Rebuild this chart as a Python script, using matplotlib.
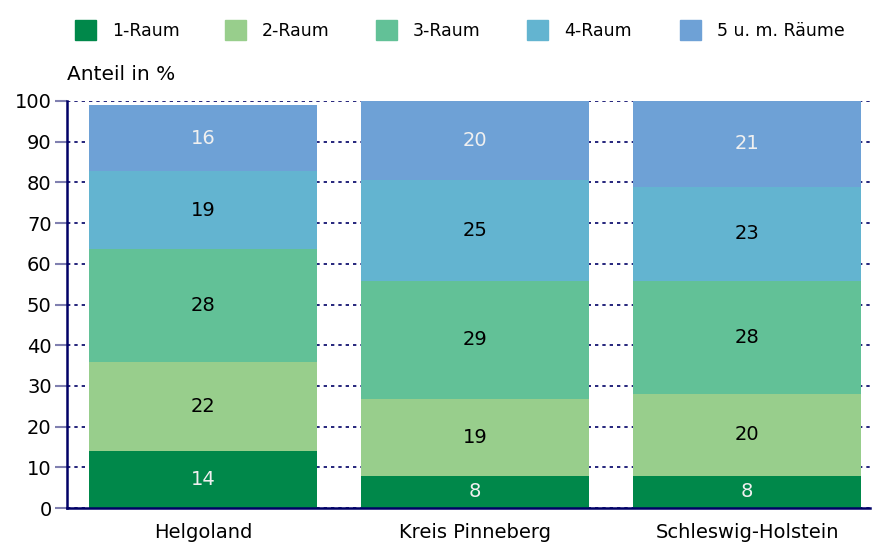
import numpy as np
import matplotlib
matplotlib.use('Agg')
from matplotlib import pyplot as plt
from matplotlib.patches import Rectangle

# data
regions = ['Helgoland', 'Kreis Pinneberg', 'Schleswig-Holstein']
series = ['1-Raum', '2-Raum', '3-Raum', '4-Raum', '5 u. m. Räume']
raum1 = [14.0, 7.9, 7.9]
raum2 = [21.9, 18.9, 20.1]
raum3 = [27.7, 29.0, 27.8]
raum4 = [19.2, 24.8, 23.1]
raum5 = [16.2, 19.6, 21.1]
labels = [[14, 8, 8], [22, 19, 20], [28, 29, 28], [19, 25, 23], [16, 20, 21]]

colors = ['#00884a', '#98ce8c', '#62c197', '#63b4d0', '#6ea1d6']
txtcol = ['#f0f0f0', 'black', 'black', 'black', '#f0f0f0']
navy = '#000066'

plt.rcParams['font.family'] = ['DejaVu Sans']

fig = plt.figure(figsize=(8.72, 5.48), dpi=100)
ax = fig.add_axes([67/872, 40/548, 803/872, 407/548])

x = np.arange(len(regions))
bottom = np.zeros(len(regions))
for i, vals in enumerate([raum1, raum2, raum3, raum4, raum5]):
    vals = np.array(vals)
    ax.bar(x, vals, bottom=bottom, width=0.84, color=colors[i], zorder=2)
    for j in range(len(regions)):
        top = min(bottom[j] + vals[j], 100)
        yc = (bottom[j] + top) / 2
        ax.text(x[j], yc, str(labels[i][j]), ha='center', va='center',
                fontsize=14, color=txtcol[i], zorder=3)
    bottom = bottom + vals

ax.set_xlim(-0.5, 2.452)
ax.set_ylim(0, 100)
ax.set_yticks(range(0, 101, 10))
ax.yaxis.grid(True, linestyle=(0, (2, 2.4)), color=navy, linewidth=1.2)
ax.set_axisbelow(True)
ax.tick_params(axis='y', length=9, width=1.5, color='#8080b0', labelsize=14, pad=2)
ax.tick_params(axis='x', length=0, labelsize=14, pad=11)
ax.set_xticks(x)
ax.set_xticklabels(regions)
for s in ['top', 'right']:
    ax.spines[s].set_visible(False)
for s in ['left', 'bottom']:
    ax.spines[s].set_color(navy)
    ax.spines[s].set_linewidth(1.8)

fig.text(67/872, 1 - 75/548, 'Anteil in %', ha='left', va='center', fontsize=14.5)

# legend
lx = [75, 225, 376, 527, 680]
for i, name in enumerate(series):
    fig.patches.append(Rectangle((lx[i]/872, 1 - 40/548), 21/872, 20/548,
                                 transform=fig.transFigure, color=colors[i]))
    fig.text((lx[i] + 37)/872, 1 - 31/548, name, ha='left', va='center', fontsize=12.5)

fig.savefig('out.png', dpi=100)
